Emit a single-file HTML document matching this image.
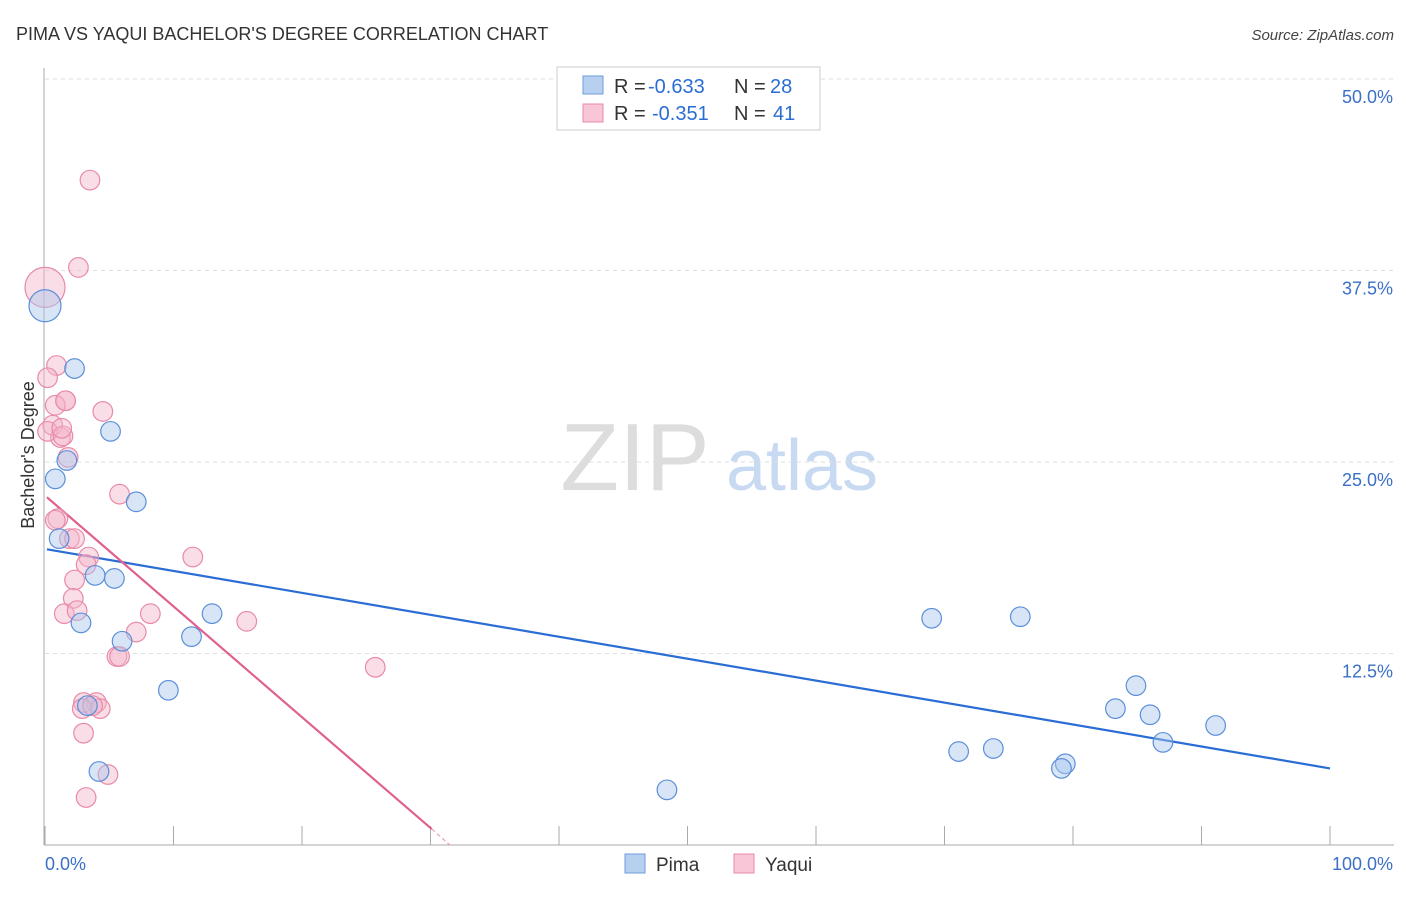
<!DOCTYPE html>
<html><head><meta charset="utf-8"><style>
body{margin:0;background:#fff;font-family:"Liberation Sans",sans-serif}
svg text{font-family:"Liberation Sans",sans-serif}
</style></head><body>
<svg id="chart" width="1406" height="892" xmlns="http://www.w3.org/2000/svg">
<text x="16" y="40" font-size="18" fill="#333">PIMA VS YAQUI BACHELOR'S DEGREE CORRELATION CHART</text>
<text x="1394" y="40" font-size="15" fill="#444" text-anchor="end" font-style="italic">Source: ZipAtlas.com</text>
<text x="635" y="490" font-size="96" fill="#ddd" text-anchor="middle" font-family="Liberation Serif">ZIP</text>
<text x="802" y="490" font-size="72" fill="#c8daf2" text-anchor="middle">atlas</text>
<text transform="translate(34,455) rotate(-90)" font-size="18" fill="#333" text-anchor="middle">Bachelor's Degree</text>
<g id="grid"></g><g id="axes"></g><g id="lines"></g><g id="pts"></g>
<g>
<rect x="557" y="67" width="263" height="63" fill="#fff" stroke="#ccc"/>
<rect x="583" y="76" width="20" height="18" fill="#b8d0f0" stroke="#6f9bdc"/>
<text x="614" y="93" font-size="20" fill="#333">R =</text>
<text x="648" y="93" font-size="20" fill="#2a6dd4">-0.633</text>
<text x="734" y="93" font-size="20" fill="#333">N =</text>
<text x="770" y="93" font-size="20" fill="#2a6dd4">28</text>
<rect x="583" y="104" width="20" height="18" fill="#f8c6d6" stroke="#e88aa8"/>
<text x="614" y="120" font-size="20" fill="#333">R =</text>
<text x="652" y="120" font-size="20" fill="#2a6dd4">-0.351</text>
<text x="734" y="120" font-size="20" fill="#333">N =</text>
<text x="773" y="120" font-size="20" fill="#2a6dd4">41</text>
</g>
<g>
<rect x="625" y="854" width="20" height="19" fill="#b8d0f0" stroke="#6f9bdc"/>
<text x="656" y="871" font-size="19" fill="#333">Pima</text>
<rect x="734" y="854" width="20" height="19" fill="#f8c6d6" stroke="#e88aa8"/>
<text x="765" y="871" font-size="19" fill="#333">Yaqui</text>
</g>
</svg>
<script>
const yTicks=[12.5,25,37.5,50];
const yTickLabels=["12.5%","25.0%","37.5%","50.0%"];
const xTickVals=[0,10,20,30,40,50,60,70,80,90,100];
const pimaX=[0,2.3,5.1,1.7,0.8,7.1,1.1,3.9,5.4,2.8,13.0,11.4,6.0,9.6,3.3,4.2,48.4,69.0,75.9,84.9,83.3,86.0,91.1,71.1,73.8,87.0,79.4,79.1];
const pimaY=[35.2,31.1,27.0,25.1,23.9,22.4,20.0,17.6,17.4,14.5,15.1,13.6,13.3,10.1,9.1,4.8,3.6,14.8,14.9,10.4,8.9,8.5,7.8,6.1,6.3,6.7,5.3,5.0];
const yaquiX=[3.5,2.6,0,0.9,0.2,1.6,0.8,4.5,0.6,1.2,0.2,1.4,1.8,5.8,1.0,1.9,3.4,11.5,3.2,2.3,2.2,1.5,2.5,8.2,7.1,15.7,5.6,25.7,3.0,4.0,2.9,4.3,3.0,4.9,3.2,1.6,2.3,3.7,1.3,0.8,5.8];
const yaquiY=[43.4,37.7,36.4,31.3,30.5,29.0,28.7,28.3,27.4,26.6,27.0,26.7,25.3,22.9,21.3,20.0,18.8,18.8,18.3,17.3,16.1,15.1,15.3,15.1,13.9,14.6,12.3,11.6,9.3,9.3,8.9,8.9,7.3,4.6,3.1,29.0,20.0,9.1,27.2,21.2,12.3];
const pimaTrend=[[0.15,19.3],[100,5.0]];
const yaquiTrend=[[0.15,22.7],[30.1,1.04]];
const yaquiDash=[[30.1,1.04],[31.5,0]];
const X=v=>45+v*12.85, Y=v=>845-v*15.32;
const NS="http://www.w3.org/2000/svg";
function mk(t,a,p){const e=document.createElementNS(NS,t);for(const k in a)e.setAttribute(k,a[k]);document.getElementById(p).appendChild(e);return e;}
yTicks.forEach((t,i)=>{const l=mk('line',{x1:45,x2:1394,y1:Y(t),y2:Y(t),stroke:'#ddd','stroke-dasharray':'4,4'},'grid');


const tx=mk('text',{x:1393,y:Y(t)+24,'font-size':18,fill:'#3a70c8','text-anchor':'end'},'grid');tx.textContent=yTickLabels[i];

});
let a=mk('line',{x1:44,x2:44,y1:68,y2:845,stroke:'#aaa'},'axes');


a=mk('line',{x1:44,x2:1394,y1:845,y2:845,stroke:'#aaa'},'axes');


xTickVals.forEach(v=>{const t=mk('line',{x1:X(v),x2:X(v),y1:826,y2:845,stroke:'#aaa'},'axes');

});
let t=mk('text',{x:45,y:870,'font-size':18,fill:'#3a70c8'},'axes');t.textContent='0.0%';


t=mk('text',{x:1393,y:870,'font-size':18,fill:'#3a70c8','text-anchor':'end'},'axes');t.textContent='100.0%';


function pts(xs,ys,fill,stroke,name){xs.forEach((x,i)=>{const r=(x===0)?(name==='yaqui-point'?20:16):9.8;
const c=mk('circle',{cx:X(x),cy:Y(ys[i]),r:r,fill:fill,'fill-opacity':0.45,stroke:stroke,'stroke-width':1.2},'pts');

});}
pts(yaquiX,yaquiY,'#f5b5ca','#e88aa8','yaqui-point');
pts(pimaX,pimaY,'#a9c6ee','#5b8fd9','pima-point');
let l=mk('line',{x1:X(pimaTrend[0][0]),y1:Y(pimaTrend[0][1]),x2:X(pimaTrend[1][0]),y2:Y(pimaTrend[1][1]),stroke:'#2a6dd4','stroke-width':2.2},'lines');


l=mk('line',{x1:X(yaquiTrend[0][0]),y1:Y(yaquiTrend[0][1]),x2:X(yaquiTrend[1][0]),y2:Y(yaquiTrend[1][1]),stroke:'#e06090','stroke-width':2.2},'lines');


l=mk('line',{x1:X(yaquiDash[0][0]),y1:Y(yaquiDash[0][1]),x2:X(yaquiDash[1][0]),y2:Y(yaquiDash[1][1]),stroke:'#e8a0b8','stroke-width':1.2,'stroke-dasharray':'4,3'},'lines');


</script>
</body></html>
